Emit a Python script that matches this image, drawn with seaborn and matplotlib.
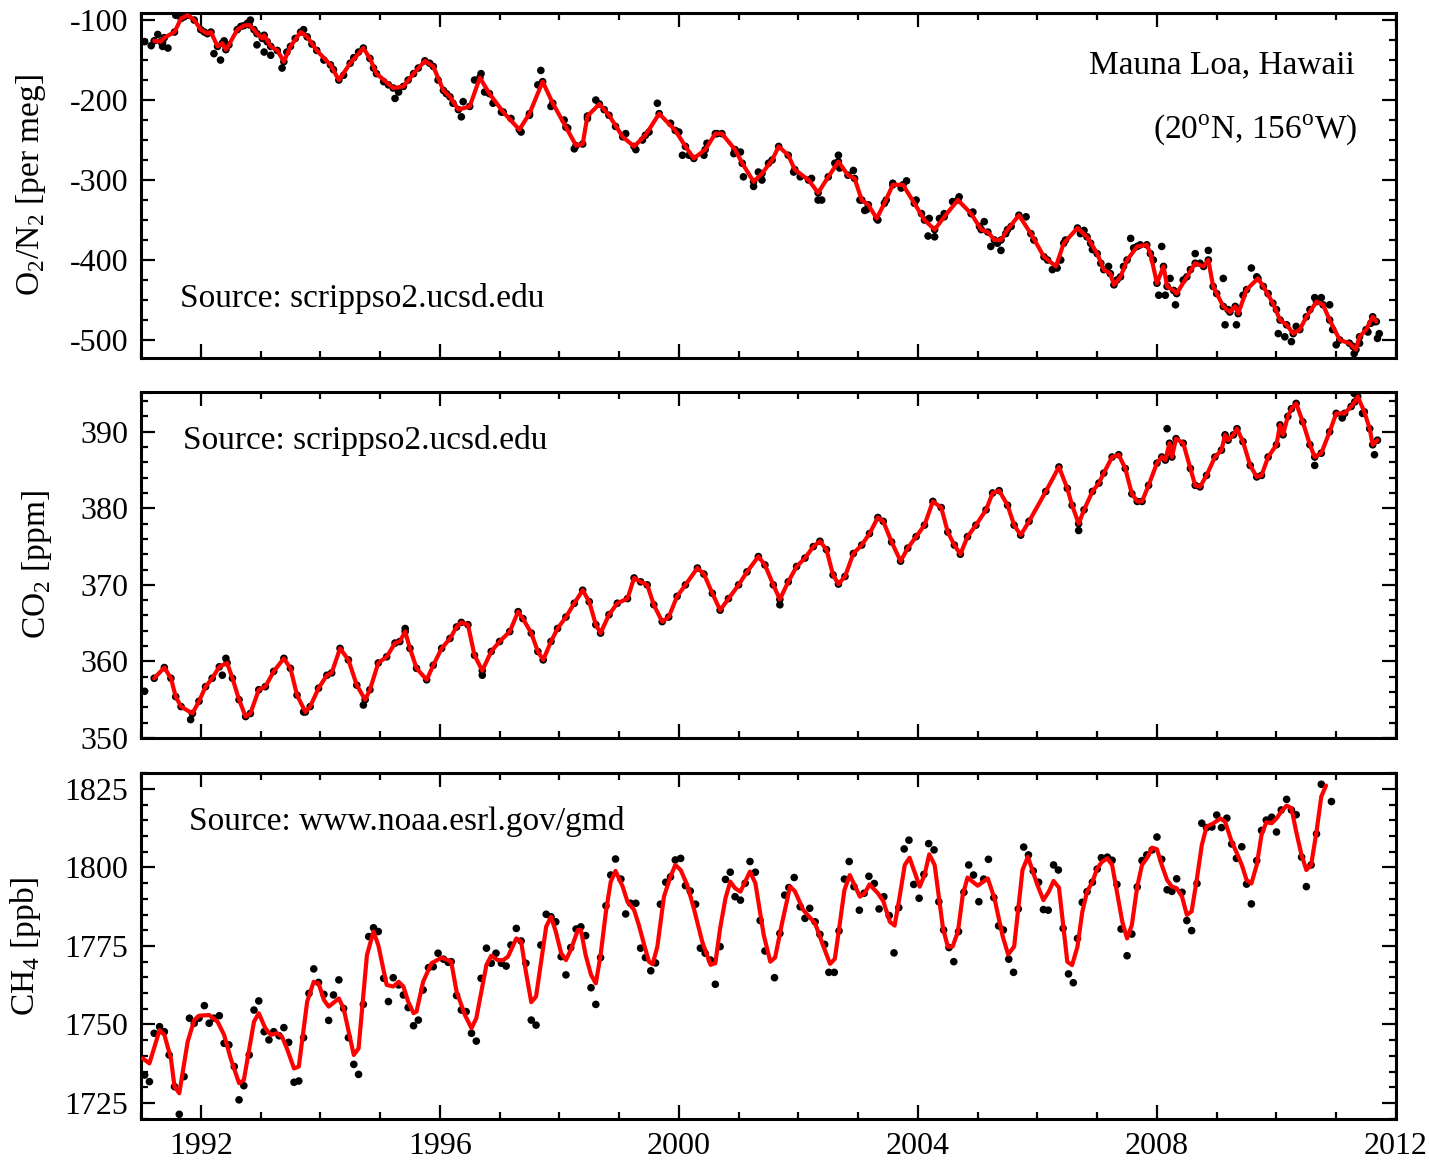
import matplotlib
matplotlib.use("Agg")
import matplotlib.pyplot as plt
from matplotlib.ticker import MultipleLocator
import seaborn as sns
import pandas as pd

# ---------------- data (decimal year, value) ----------------
O2_LINE = [(1991.22,-126),(1991.33,-127),(1991.39,-122),(1991.56,-115),(1991.67,-98),(1991.78,-94),(1991.89,-100),
 (1992.0,-112),(1992.11,-117),(1992.17,-115),(1992.28,-133),(1992.36,-129),(1992.42,-137),(1992.47,-131),(1992.61,-112),
 (1992.72,-107),(1992.81,-106),(1992.89,-112),(1992.94,-117),(1993.03,-123),(1993.06,-119),(1993.17,-133),(1993.28,-138),
 (1993.39,-152),(1993.5,-133),(1993.67,-115),(1993.78,-121),(1993.94,-138),(1994.17,-156),(1994.31,-175),(1994.5,-154),
 (1994.72,-135),(1994.83,-148),(1994.94,-167),(1995.22,-185),(1995.39,-183),(1995.56,-167),(1995.75,-151),(1995.89,-158),
 (1996.06,-188),(1996.17,-196),(1996.31,-212),(1996.5,-208),(1996.67,-172),(1996.83,-192),(1997.06,-215),(1997.33,-237),
 (1997.5,-217),(1997.72,-177),(1997.89,-204),(1998.11,-234),(1998.28,-257),(1998.39,-255),(1998.47,-220),(1998.67,-205),
 (1998.83,-219),(1999.06,-246),(1999.25,-258),(1999.44,-244),(1999.67,-217),(1999.94,-238),(2000.11,-258),(2000.25,-273),
 (2000.44,-262),(2000.61,-242),(2000.72,-242),(2000.94,-262),(2001.06,-279),(2001.25,-302),(2001.39,-292),(2001.56,-275),
 (2001.67,-258),(2001.83,-269),(2001.94,-287),(2002.17,-300),(2002.33,-316),(2002.5,-296),(2002.67,-277),(2002.83,-294),
 (2002.94,-298),(2003.06,-325),(2003.17,-331),(2003.31,-348),(2003.44,-329),(2003.58,-306),(2003.75,-306),(2003.94,-329),
 (2004.11,-350),(2004.28,-362),(2004.44,-346),(2004.67,-325),(2004.89,-342),(2005.06,-362),(2005.17,-365),(2005.28,-375),
 (2005.39,-375),(2005.5,-362),(2005.69,-344),(2005.89,-367),(2006.11,-396),(2006.31,-408),(2006.44,-379),(2006.67,-360),
 (2006.83,-371),(2007.0,-392),(2007.11,-412),(2007.22,-417),(2007.28,-431),(2007.39,-421),(2007.5,-400),(2007.67,-383),
 (2007.83,-381),(2007.89,-392),(2008.0,-429),(2008.11,-408),(2008.17,-433),(2008.28,-438),(2008.33,-442),(2008.5,-421),
 (2008.64,-404),(2008.78,-408),(2008.86,-400),(2008.94,-433),(2009.11,-458),(2009.22,-465),(2009.31,-458),(2009.36,-467),
 (2009.5,-437),(2009.69,-423),(2009.78,-433),(2009.94,-454),(2010.06,-475),(2010.17,-481),(2010.28,-492),(2010.39,-487),
 (2010.5,-471),(2010.67,-452),(2010.78,-456),(2010.89,-475),(2011.06,-500),(2011.22,-504),(2011.33,-512),(2011.39,-496),
 (2011.5,-487),(2011.61,-471),(2011.67,-477)]
O2_EXTRA_DOTS = [(1991.06,-127),(1991.28,-118),(1991.36,-133),(1991.45,-135),(1991.58,-94),(1992.22,-142),(1992.33,-150),
 (1992.39,-126),(1992.83,-100),(1992.94,-131),(1993.06,-140),(1993.17,-144),(1993.36,-160),(1995.25,-198),(1995.31,-190),
 (1996.36,-221),(1997.69,-163),(1998.25,-261),(1999.64,-204),(2000.06,-269),(2001.08,-296),(2001.25,-308),(2002.33,-325),
 (2002.39,-325),(2002.67,-269),(2003.11,-338),(2003.81,-301),(2004.17,-370),(2004.28,-371),(2005.22,-383),(2005.39,-388),
 (2006.25,-412),(2007.56,-373),(2008.03,-444),(2008.08,-383),(2008.14,-444),(2008.31,-456),(2008.64,-392),(2008.86,-388),
 (2009.11,-423),(2009.14,-481),(2009.33,-481),(2009.58,-410),(2010.03,-492),(2010.14,-496),(2010.25,-502),(2010.64,-447),
 (2010.75,-447),(2010.89,-456),(2011.0,-506),(2011.28,-508),(2011.3,-517),(2011.64,-477),(2011.69,-498),(2011.72,-492),
 (1991.17,-132),(1991.36,-128),(1991.72,-96),(1992.06,-115),(1992.67,-108),(1992.78,-104),(1993.11,-127),(1993.44,-140),
 (1993.58,-123),(1993.72,-112),(1993.86,-130),(1994.06,-150),(1994.22,-162),(1994.39,-169),(1994.56,-147),(1994.64,-140),
 (1994.89,-160),(1995.06,-177),(1995.14,-181),(1995.47,-175),(1995.64,-160),(1995.83,-154),(1995.97,-175),(1996.11,-192),
 (1996.22,-204),(1996.39,-202),(1996.58,-175),(1996.69,-167),(1996.75,-190),(1996.89,-204),(1997.03,-215),(1997.19,-223),
 (1997.36,-240),(1997.5,-219),(1997.64,-181),(1997.86,-208),(1998.08,-225),(1998.14,-235),(1998.47,-223),(1998.61,-200),
 (1998.75,-212),(1998.94,-233),(1999.11,-242),(1999.28,-262),(1999.39,-250),(1999.5,-240),(1999.86,-229),(2000.0,-240),
 (2000.17,-269),(2000.42,-269),(2000.47,-254),(2000.64,-242),(2000.92,-267),(2001.03,-265),(2001.33,-290),(2001.39,-300),
 (2001.5,-279),(2001.92,-290),(2002.03,-296),(2002.22,-298),(2002.61,-279),(2002.69,-285),(2002.92,-288),(2003.03,-325),
 (2003.14,-337),(2003.33,-350),(2003.47,-325),(2003.58,-304),(2003.72,-310),(2003.97,-325),(2004.06,-342),(2004.19,-348),
 (2004.36,-348),(2004.44,-342),(2004.58,-327),(2004.69,-321),(2004.92,-340),(2005.03,-358),(2005.11,-352),(2005.33,-379),
 (2005.47,-367),(2005.56,-358),(2005.81,-346),(2005.94,-375),(2006.17,-400),(2006.33,-410),(2006.39,-400),(2006.47,-375),
 (2006.72,-367),(2006.92,-387),(2006.78,-363),(2006.89,-379),(2007.06,-404),(2007.19,-408),(2007.33,-425),(2007.44,-408),
 (2007.61,-385),(2007.72,-381),(2007.94,-400),(2008.22,-423),(2008.44,-425),(2008.56,-412),(2008.72,-404),(2009.0,-442),
 (2009.19,-462),(2009.44,-444),(2009.67,-421),(2009.86,-442),(2010.0,-462),(2010.33,-483),(2010.56,-462),(2010.67,-450),
 (2010.94,-487),(2011.39,-504),(2011.53,-490),(2011.58,-479)]

CO2_LINE = [(1991.22,357.8),(1991.39,359.2),(1991.5,357.8),(1991.58,355.4),(1991.67,354.1),(1991.86,353.2),(1991.97,354.8),
 (1992.08,356.7),(1992.19,357.8),(1992.31,359.3),(1992.44,359.8),(1992.53,357.8),(1992.64,355.0),(1992.75,352.8),(1992.83,353.2),
 (1992.97,356.3),(1993.08,356.7),(1993.22,358.7),(1993.39,360.4),(1993.5,359.1),(1993.61,355.6),(1993.75,353.4),(1993.83,354.1),
 (1993.97,356.5),(1994.11,358.2),(1994.19,358.5),(1994.33,361.7),(1994.47,360.2),(1994.61,356.9),(1994.75,355.0),(1994.83,356.3),
 (1994.97,359.8),(1995.11,360.6),(1995.25,362.4),(1995.33,362.6),(1995.42,363.9),(1995.5,361.7),(1995.61,359.1),(1995.78,357.6),
 (1995.89,359.5),(1996.03,361.7),(1996.17,363.0),(1996.28,364.5),(1996.36,365.1),(1996.47,364.8),(1996.58,360.8),(1996.71,358.8),
 (1996.86,361.3),(1997.0,362.6),(1997.17,363.9),(1997.31,366.5),(1997.39,365.6),(1997.53,363.7),(1997.64,361.3),(1997.73,360.2),
 (1997.86,362.6),(1997.97,364.3),(1998.11,365.8),(1998.25,367.6),(1998.39,369.3),(1998.5,367.8),(1998.61,364.8),(1998.69,363.7),
 (1998.83,366.1),(1998.97,367.6),(1999.14,368.2),(1999.25,370.9),(1999.36,370.4),(1999.47,370.0),(1999.58,367.4),(1999.72,365.2),
 (1999.83,365.8),(1999.97,368.5),(2000.11,370.0),(2000.31,372.2),(2000.42,371.4),(2000.56,368.9),(2000.69,366.7),(2000.83,368.2),
 (2001.0,370.0),(2001.14,371.7),(2001.33,373.7),(2001.44,372.6),(2001.58,370.0),(2001.69,368.1),(2001.83,370.4),(2001.97,372.4),
 (2002.11,373.5),(2002.25,375.0),(2002.36,375.7),(2002.47,374.6),(2002.58,371.3),(2002.67,370.1),(2002.78,371.1),(2002.92,374.1),
 (2003.06,375.2),(2003.19,376.7),(2003.33,378.8),(2003.42,378.3),(2003.56,375.6),(2003.71,373.1),(2003.83,374.8),(2003.97,376.3),
 (2004.11,377.8),(2004.25,380.9),(2004.39,380.1),(2004.5,376.9),(2004.61,375.2),(2004.71,374.0),(2004.83,376.3),(2004.97,377.8),
 (2005.14,379.8),(2005.25,382.0),(2005.36,382.3),(2005.5,380.4),(2005.61,377.8),(2005.72,376.5),(2005.86,378.3),(2006.14,382.2),
 (2006.36,385.4),(2006.5,382.6),(2006.58,380.4),(2006.69,378.0),(2006.78,379.8),(2006.92,382.2),(2007.03,383.3),(2007.11,384.6),
 (2007.25,386.7),(2007.36,387.0),(2007.47,385.2),(2007.58,381.9),(2007.67,380.9),(2007.75,380.9),(2007.86,383.0),(2008.0,385.9),
 (2008.08,386.7),(2008.14,386.3),(2008.21,388.5),(2008.25,386.7),(2008.32,389.1),(2008.44,388.5),(2008.56,385.2),(2008.64,383.0),
 (2008.72,382.8),(2008.83,384.3),(2008.97,386.7),(2009.08,387.6),(2009.14,389.6),(2009.19,388.9),(2009.28,389.6),(2009.34,390.4),
 (2009.44,388.7),(2009.56,385.6),(2009.67,384.1),(2009.75,384.3),(2009.86,386.7),(2010.0,388.3),(2010.06,390.9),(2010.11,389.6),
 (2010.19,392.0),(2010.25,393.0),(2010.33,393.7),(2010.44,391.3),(2010.56,388.3),(2010.64,386.7),(2010.75,387.2),(2010.89,390.0),
 (2011.0,392.4),(2011.14,392.4),(2011.25,393.3),(2011.31,393.9),(2011.36,394.6),(2011.47,392.6),(2011.56,390.4),(2011.61,388.3),
 (2011.69,388.9)]
CO2_EXTRA_DOTS = [(1991.06,356.1),(1991.83,352.4),(1992.42,360.4),(1992.36,358.2),(1993.72,353.4),(1994.72,354.3),(1995.42,364.3),
 (1996.71,358.2),(2001.69,367.4),(2006.69,377.1),(2008.17,390.4),(2010.64,385.6),(2011.3,395.0),(2011.44,392.4),(2011.64,387.0),
 (2011.1,391.8)]

CH4_LINE = [(1991.03,1739.2),(1991.14,1737.6),(1991.31,1748.2),(1991.39,1746.7),(1991.5,1739.2),(1991.56,1730.2),(1991.64,1728.1),
 (1991.78,1744.5),(1991.89,1751.4),(1991.97,1752.8),(1992.14,1753.0),(1992.28,1750.9),(1992.39,1746.7),(1992.5,1739.2),(1992.64,1731.3),
 (1992.72,1732.3),(1992.89,1750.9),(1992.97,1753.6),(1993.08,1748.8),(1993.17,1746.7),(1993.28,1747.2),(1993.36,1746.1),(1993.44,1742.4),
 (1993.56,1736.0),(1993.64,1736.6),(1993.78,1757.3),(1993.89,1763.6),(1993.97,1763.1),(1994.06,1757.8),(1994.14,1755.7),(1994.31,1758.3),
 (1994.39,1755.1),(1994.56,1740.3),(1994.64,1742.4),(1994.78,1772.1),(1994.89,1779.6),(1994.97,1775.3),(1995.11,1762.6),(1995.22,1762.1),
 (1995.31,1763.6),(1995.39,1762.1),(1995.47,1757.3),(1995.56,1753.6),(1995.61,1754.1),(1995.72,1763.6),(1995.86,1769.5),(1996.03,1771.3),
 (1996.19,1770.0),(1996.28,1760.5),(1996.42,1753.0),(1996.53,1748.8),(1996.61,1752.0),(1996.78,1769.0),(1996.86,1771.9),(1996.97,1770.5),
 (1997.06,1770.5),(1997.14,1771.6),(1997.28,1777.4),(1997.36,1776.4),(1997.44,1766.8),(1997.53,1757.1),(1997.61,1758.9),(1997.78,1781.2),
 (1997.86,1784.3),(1997.94,1779.6),(1998.03,1772.7),(1998.11,1770.5),(1998.19,1773.7),(1998.31,1780.1),(1998.36,1780.1),(1998.44,1772.1),
 (1998.53,1765.8),(1998.61,1763.1),(1998.69,1772.1),(1998.78,1786.0),(1998.86,1795.5),(1998.94,1798.9),(1999.06,1793.9),(1999.14,1789.1),
 (1999.25,1786.5),(1999.33,1781.7),(1999.42,1775.3),(1999.5,1770.0),(1999.56,1769.2),(1999.64,1774.8),(1999.75,1790.7),(1999.86,1797.1),
 (1999.94,1800.8),(2000.03,1799.2),(2000.14,1794.4),(2000.25,1787.0),(2000.39,1776.4),(2000.53,1769.0),(2000.61,1769.5),(2000.69,1780.6),
 (2000.78,1790.2),(2000.86,1795.5),(2000.94,1793.4),(2001.03,1792.3),(2001.19,1798.7),(2001.28,1795.0),(2001.42,1778.5),(2001.53,1770.0),
 (2001.61,1771.3),(2001.72,1781.7),(2001.86,1793.9),(2001.94,1792.5),(2002.08,1786.5),(2002.28,1782.2),(2002.42,1774.8),(2002.53,1769.3),
 (2002.61,1770.9),(2002.69,1781.7),(2002.77,1792.8),(2002.86,1797.6),(2003.03,1790.7),(2003.11,1791.8),(2003.19,1794.6),(2003.33,1791.8),
 (2003.42,1789.3),(2003.53,1782.7),(2003.61,1781.5),(2003.69,1790.2),(2003.78,1800.8),(2003.86,1803.1),(2004.03,1793.9),(2004.11,1797.6),
 (2004.19,1804.2),(2004.28,1800.8),(2004.42,1780.6),(2004.5,1774.8),(2004.58,1774.8),(2004.67,1779.6),(2004.75,1791.2),(2004.83,1796.8),
 (2005.0,1794.2),(2005.17,1796.5),(2005.28,1790.2),(2005.42,1778.0),(2005.51,1772.3),(2005.61,1774.8),(2005.75,1799.2),(2005.84,1803.4),
 (2006.0,1794.4),(2006.1,1789.6),(2006.19,1792.3),(2006.27,1795.7),(2006.36,1793.6),(2006.5,1770.0),(2006.58,1768.9),(2006.67,1774.8),
 (2006.75,1785.8),(2006.83,1792.3),(2006.92,1795.4),(2007.0,1799.7),(2007.08,1801.8),(2007.17,1802.9),(2007.25,1800.8),(2007.33,1792.3),
 (2007.42,1782.7),(2007.5,1777.4),(2007.58,1781.7),(2007.67,1793.9),(2007.75,1800.8),(2007.83,1802.9),(2007.92,1806.3),(2008.0,1805.8),
 (2008.08,1800.8),(2008.17,1796.0),(2008.25,1793.9),(2008.33,1793.4),(2008.42,1790.7),(2008.5,1784.9),(2008.58,1786.0),(2008.67,1796.6),
 (2008.75,1807.1),(2008.83,1813.0),(2008.94,1814.0),(2009.06,1815.6),(2009.14,1814.6),(2009.25,1808.2),(2009.33,1804.9),(2009.42,1800.8),
 (2009.5,1796.0),(2009.58,1794.9),(2009.67,1800.8),(2009.75,1810.4),(2009.83,1814.4),(2009.92,1814.1),(2010.0,1815.6),(2010.08,1817.8),
 (2010.17,1819.7),(2010.25,1818.9),(2010.33,1811.4),(2010.42,1803.9),(2010.5,1799.2),(2010.58,1800.8),(2010.67,1811.4),(2010.75,1822.6),
 (2010.83,1826.1)]
CH4_DOTS = [(1991.06,1733.9),(1991.14,1731.8),(1991.22,1747.2),(1991.31,1749.3),(1991.39,1747.7),(1991.47,1740.3),(1991.56,1730.2),
 (1991.64,1721.4),(1991.72,1733.4),(1991.81,1752.0),(1991.89,1750.4),(1991.97,1752.0),(1992.06,1756.0),(1992.14,1750.4),(1992.22,1752.0),
 (1992.31,1752.8),(1992.39,1744.0),(1992.47,1743.5),(1992.56,1736.6),(1992.64,1726.0),(1992.72,1730.5),(1992.81,1740.3),(1992.89,1754.6),
 (1992.97,1757.5),(1993.06,1747.7),(1993.14,1745.1),(1993.22,1747.7),(1993.31,1746.4),(1993.39,1749.0),(1993.47,1744.3),(1993.56,1731.6),
 (1993.64,1732.0),(1993.72,1745.8),(1993.81,1759.9),(1993.89,1767.7),(1993.97,1763.4),(1994.06,1759.6),(1994.14,1751.3),(1994.22,1759.4),
 (1994.31,1764.2),(1994.39,1755.1),(1994.47,1745.8),(1994.56,1737.3),(1994.64,1734.1),(1994.72,1756.4),(1994.81,1778.0),(1994.89,1780.8),
 (1994.97,1779.6),(1995.06,1764.7),(1995.14,1757.3),(1995.22,1764.9),(1995.31,1762.6),(1995.39,1759.4),(1995.47,1755.4),(1995.56,1749.6),
 (1995.64,1751.4),(1995.72,1761.0),(1995.81,1768.1),(1995.89,1768.4),(1995.97,1772.7),(1996.06,1770.8),(1996.14,1769.8),(1996.19,1770.0),
 (1996.28,1759.2),(1996.36,1754.6),(1996.44,1754.1),(1996.53,1747.2),(1996.61,1744.7),(1996.69,1764.7),(1996.78,1774.3),(1996.86,1769.5),
 (1996.94,1772.7),(1997.03,1769.5),(1997.11,1768.6),(1997.19,1775.3),(1997.28,1780.6),(1997.36,1776.6),(1997.44,1769.5),(1997.53,1751.4),
 (1997.61,1749.8),(1997.69,1775.3),(1997.78,1785.1),(1997.86,1784.3),(1997.94,1782.7),(1998.03,1771.6),(1998.11,1765.8),(1998.19,1774.5),
 (1998.28,1780.4),(1998.36,1781.1),(1998.44,1778.3),(1998.53,1761.7),(1998.61,1756.4),(1998.69,1771.3),(1998.78,1787.8),(1998.86,1797.6),
 (1998.94,1802.7),(1999.03,1796.3),(1999.11,1785.2),(1999.19,1788.6),(1999.28,1788.6),(1999.36,1774.3),(1999.44,1771.3),(1999.53,1767.1),
 (1999.61,1769.6),(1999.69,1788.3),(1999.78,1795.3),(1999.86,1797.0),(1999.94,1802.4),(2000.03,1802.9),(2000.11,1794.2),(2000.19,1792.5),
 (2000.28,1788.3),(2000.36,1774.3),(2000.44,1772.7),(2000.53,1770.5),(2000.61,1762.8),(2000.69,1774.8),(2000.78,1796.2),(2000.86,1798.5),
 (2000.94,1790.7),(2001.03,1789.6),(2001.11,1795.0),(2001.19,1801.9),(2001.28,1798.5),(2001.36,1783.1),(2001.44,1773.4),(2001.6,1764.9),
 (2001.69,1779.0),(2001.77,1791.2),(2001.84,1793.6),(2001.93,1796.8),(2002.03,1787.5),(2002.11,1783.8),(2002.19,1787.0),(2002.28,1782.7),
 (2002.36,1778.7),(2002.44,1775.5),(2002.51,1766.6),(2002.6,1766.6),(2002.68,1779.8),(2002.77,1796.3),(2002.85,1801.9),(2002.93,1793.9),
 (2003.02,1786.4),(2003.1,1791.8),(2003.18,1797.2),(2003.27,1794.9),(2003.35,1786.8),(2003.43,1790.7),(2003.52,1784.7),(2003.6,1772.8),
 (2003.68,1787.2),(2003.77,1805.9),(2003.85,1808.7),(2003.93,1794.6),(2004.02,1790.2),(2004.1,1797.8),(2004.18,1807.6),(2004.27,1805.6),
 (2004.35,1789.1),(2004.43,1780.1),(2004.52,1774.5),(2004.6,1770.0),(2004.68,1779.6),(2004.77,1792.1),(2004.85,1800.8),(2004.93,1797.6),
 (2005.02,1789.1),(2005.1,1796.3),(2005.18,1802.6),(2005.27,1790.4),(2005.35,1781.4),(2005.43,1780.1),(2005.52,1770.8),(2005.6,1766.6),
 (2005.68,1786.8),(2005.77,1806.5),(2005.85,1804.0),(2005.93,1798.9),(2006.02,1795.3),(2006.1,1786.6),(2006.18,1786.4),(2006.27,1800.8),
 (2006.35,1799.2),(2006.43,1780.6),(2006.52,1766.1),(2006.6,1763.3),(2006.67,1777.4),(2006.75,1788.9),(2006.83,1792.3),(2006.92,1795.3),
 (2007.0,1799.5),(2007.07,1803.1),(2007.17,1803.3),(2007.25,1802.3),(2007.33,1794.6),(2007.4,1780.4),(2007.5,1771.9),(2007.58,1778.8),
 (2007.67,1793.8),(2007.75,1802.2),(2007.83,1804.0),(2007.92,1805.6),(2008.0,1809.7),(2008.08,1802.6),(2008.17,1792.9),(2008.25,1792.4),
 (2008.33,1796.4),(2008.42,1792.1),(2008.5,1783.1),(2008.58,1779.9),(2008.67,1794.9),(2008.75,1814.1),(2008.83,1812.7),(2008.92,1812.9),
 (2009.0,1816.7),(2009.08,1812.7),(2009.17,1815.7),(2009.25,1807.5),(2009.33,1802.9),(2009.42,1806.6),(2009.5,1794.7),(2009.58,1788.4),
 (2009.67,1802.2),(2009.75,1811.8),(2009.83,1815.1),(2009.92,1816.0),(2010.0,1811.3),(2010.08,1818.3),(2010.17,1821.7),(2010.25,1818.3),
 (2010.33,1816.8),(2010.42,1803.3),(2010.5,1793.9),(2010.58,1800.8),(2010.67,1810.7),(2010.75,1826.5),(2010.92,1821.0)]

X_TICKS = [1992, 1996, 2000, 2004, 2008, 2012]

# ---------------- style ----------------
sns.set_theme(style="ticks")
plt.rcParams['font.family'] = ['Liberation Serif', 'DejaVu Serif']
plt.rcParams['mathtext.fontset'] = 'custom'
plt.rcParams['mathtext.rm'] = 'Liberation Serif'
plt.rcParams['axes.unicode_minus'] = False
plt.rcParams['text.color'] = 'black'
plt.rcParams['axes.labelcolor'] = 'black'

def frame(pairs):
    return pd.DataFrame(pairs, columns=['year', 'value'])

fig = plt.figure(figsize=(14.29, 11.62), dpi=100)
ax1 = fig.add_axes([0.0987, 0.6919, 0.8782, 0.2969])
ax2 = fig.add_axes([0.0987, 0.3649, 0.8782, 0.2978])
ax3 = fig.add_axes([0.0987, 0.0370, 0.8782, 0.2978])

panels = [
    (ax1, O2_LINE + O2_EXTRA_DOTS, O2_LINE, (-522.5, -91.2), 100, 25),
    (ax2, CO2_LINE + CO2_EXTRA_DOTS, CO2_LINE, (350.0, 395.2), 10, 2),
    (ax3, CH4_DOTS, CH4_LINE, (1719.9, 1830.1), 25, 5),
]
for ax, dots, line, ylim, ymaj, ymin in panels:
    d = frame(dots)
    l = frame(line)
    sns.scatterplot(data=d, x='year', y='value', ax=ax, color='black', s=30,
                    edgecolor='none', linewidth=0, zorder=2, legend=False)
    sns.lineplot(data=l, x='year', y='value', ax=ax, color='#ff0000', lw=3.0,
                 estimator=None, sort=False, zorder=3, legend=False)
    ax.set_xlim(1991, 2012)
    ax.set_ylim(*ylim)
    ax.set_xticks(X_TICKS)
    ax.xaxis.set_minor_locator(MultipleLocator(1))
    ax.yaxis.set_major_locator(MultipleLocator(ymaj))
    ax.yaxis.set_minor_locator(MultipleLocator(ymin))
    ax.tick_params(which='both', direction='in', top=True, right=True,
                   width=1.6, color='black', labelcolor='black')
    ax.tick_params(which='major', length=10, labelsize=23, pad=9)
    ax.tick_params(which='minor', length=5)
    for s in ax.spines.values():
        s.set_linewidth(2.2)
        s.set_color('black')
    ax.set_xlabel('')
    ax.grid(False)

ax1.tick_params(labelbottom=False)
ax2.tick_params(labelbottom=False)

ax1.set_ylabel(r'O$_\mathregular{2}$/N$_\mathregular{2}$ [per meg]', fontsize=24, color='black')
ax2.set_ylabel(r'CO$_\mathregular{2}$ [ppm]', fontsize=24, color='black')
ax3.set_ylabel(r'CH$_\mathregular{4}$ [ppb]', fontsize=24, color='black')
ax1.yaxis.set_label_coords(-0.074, 0.5)
ax2.yaxis.set_label_coords(-0.069, 0.5)
ax3.yaxis.set_label_coords(-0.078, 0.5)

ax1.text(0.967, 0.826, 'Mauna Loa, Hawaii', transform=ax1.transAxes, ha='right', va='baseline', fontsize=24, color='black')
ax1.text(0.969, 0.638, r'(20$^\mathregular{o}$N, 156$^\mathregular{o}$W)', transform=ax1.transAxes,
         ha='right', va='baseline', fontsize=24, color='black')
ax1.text(0.031, 0.148, 'Source: scrippso2.ucsd.edu', transform=ax1.transAxes, ha='left', va='baseline', fontsize=24, color='black')
ax2.text(0.0335, 0.835, 'Source: scrippso2.ucsd.edu', transform=ax2.transAxes, ha='left', va='baseline', fontsize=24, color='black')
ax3.text(0.038, 0.835, 'Source: www.noaa.esrl.gov/gmd', transform=ax3.transAxes, ha='left', va='baseline', fontsize=24, color='black')

fig.savefig('out.png', dpi=100, facecolor='white')
